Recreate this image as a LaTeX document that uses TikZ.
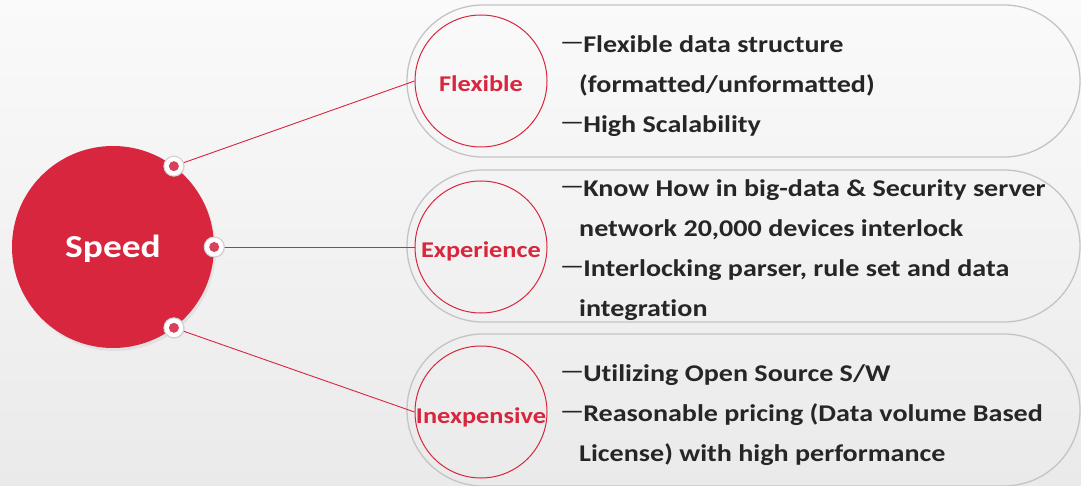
\documentclass[tikz,border=0pt]{standalone}
\usepackage{fontspec}
\setmainfont{Carlito}[FakeStretch=1.17, Ligatures=NoCommon]
\newfontfamily\krfont{Noto Sans CJK KR}
\usetikzlibrary{shadows}
\definecolor{speedred}{HTML}{D7263D}
\definecolor{dotred}{HTML}{D9405A}
\definecolor{pillgray}{HTML}{C4C4C4}
\definecolor{knobgray}{HTML}{CFCFCF}
\definecolor{inkgray}{HTML}{262626}
\definecolor{bgtop}{HTML}{FAFAFA}
\definecolor{bgbottom}{HTML}{EAEAEA}
% bullet bar in front of each note line
\newcommand\bardash{{\krfont\mdseries ㅡ}}
\begin{document}
\begin{tikzpicture}[x=1pt,y=-1pt,
  pill/.style={draw=pillgray, line width=1.3pt, rounded corners=76pt,
    minimum width=673pt, minimum height=152pt, inner sep=0pt},
  ring/.style={circle, draw=speedred, line width=1pt, minimum size=132pt,
    inner sep=0pt, text=speedred, text height=22pt, text depth=0pt,
    font=\bfseries\fontsize{22.5}{26}\selectfont},
  hub/.style={circle, fill=speedred, minimum size=202pt, inner sep=0pt,
    text=white, text height=21.6pt, text depth=0pt,
    font=\bfseries\fontsize{32}{36}\selectfont,
    drop shadow={opacity=0.12, shadow xshift=2pt, shadow yshift=-3pt}},
  knob/.style={circle, fill=white, draw=knobgray, line width=1pt,
    minimum size=20pt, inner sep=0pt,
    drop shadow={opacity=0.12, shadow xshift=1pt, shadow yshift=-1pt}},
  dot/.style={circle, fill=dotred, minimum size=10pt, inner sep=0pt},
  link/.style={draw=speedred, line width=0.9pt},
  notes/.style={anchor=west, align=left, text=inkgray, inner sep=0pt,
    font=\bfseries\fontsize{24}{40}\selectfont}
]
% backdrop
\shade[top color=bgtop, bottom color=bgbottom] (0,0) rectangle (1081,486);
\useasboundingbox (0,0) rectangle (1081,486);

% three capsules
\node[pill] (p1) at (743.5,81) {};
\node[pill] (p2) at (743.5,246) {};
\node[pill] (p3) at (743.5,410) {};

% central hub
\node[hub] (hub) at (113,247) {Speed};

% ringed labels
\node[ring] (c1) at (481,81) {Flexible};
\node[ring] (c2) at (481,247) {Experience};
\node[ring] (c3) at (481,412) {Inexpensive};

% anchor points on the hub
\coordinate (k1) at (hub.53);
\coordinate (k2) at (hub.0);
\coordinate (k3) at (hub.-53);

% connectors
\draw[link] (k1) -- (c1.west);
\draw[link] (k2) -- (c2.west);
\draw[link] (k3) -- (c3.west);

\node[knob] (n1) at (k1) {};
\node[knob] (n2) at (k2) {};
\node[knob] (n3) at (k3) {};
\node[dot] at (n1) {};
\node[dot] at (n2) {};
\node[dot] at (n3) {};

% notes
\node[notes] (t1) at (561,86.5) {\bardash Flexible data structure\\
  \hspace*{18pt}(formatted/unformatted)\\
  \bardash High Scalability};
\node[notes] (t2) at (561,250.5) {\bardash Know How in big-data \& Security server\\
  \hspace*{18pt}network 20,000 devices interlock\\
  \bardash Interlocking parser, rule set and data\\
  \hspace*{18pt}integration};
\node[notes] (t3) at (561,415.5) {\bardash Utilizing Open Source S/W\\
  \bardash Reasonable pricing (Data volume Based\\
  \hspace*{18pt}License) with high performance};
\end{tikzpicture}
\end{document}
